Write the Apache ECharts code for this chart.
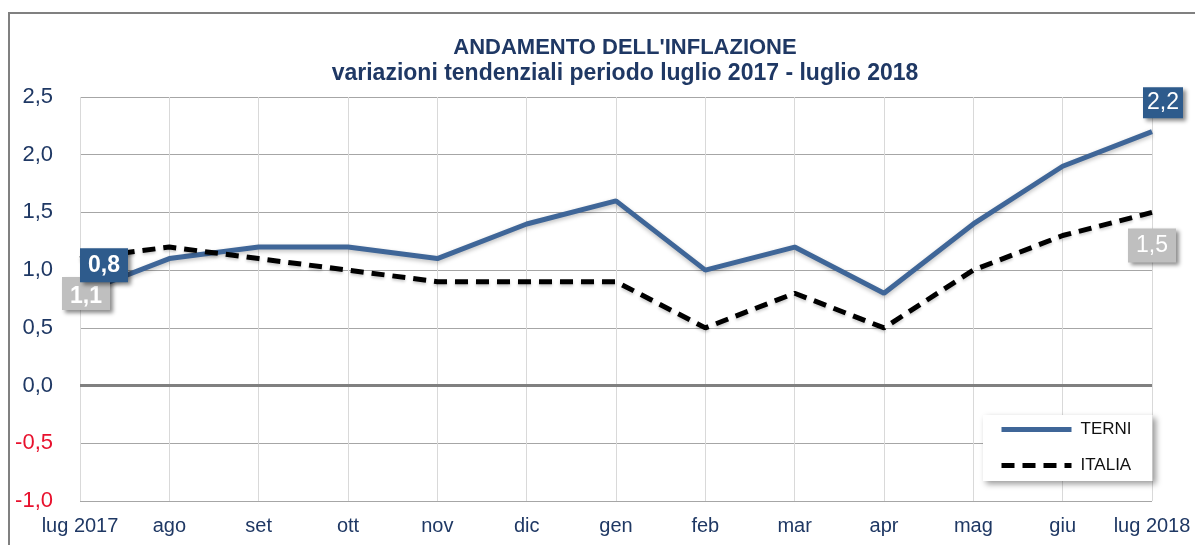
<!DOCTYPE html>
<html>
<head>
<meta charset="utf-8">
<script src="https://cdn.jsdelivr.net/npm/echarts@6/dist/echarts.min.js"></script>
<style>
  html, body { margin: 0; padding: 0; background: #fff; }
  #chart { width: 1195px; height: 545px; }
</style>
</head>
<body>
<div id="chart"></div>
<script>
// dati
const categories = ['lug 2017', 'ago', 'set', 'ott', 'nov', 'dic', 'gen', 'feb', 'mar', 'apr', 'mag', 'giu', 'lug 2018'];
const terni = [0.8, 1.1, 1.2, 1.2, 1.1, 1.4, 1.6, 1.0, 1.2, 0.8, 1.4, 1.9, 2.2];
const italia = [1.1, 1.2, 1.1, 1.0, 0.9, 0.9, 0.9, 0.5, 0.8, 0.5, 1.0, 1.3, 1.5];

const navy = '#1f3864';
const blu = '#3f6698';
const fmt = v => v.toFixed(1).replace('.', ',');

const chart = echarts.init(document.getElementById('chart'));
const last = categories.length - 1;

const option = {
    animation: false,
    textStyle: { fontFamily: 'Liberation Sans, Arial, sans-serif' },
    title: {
        text: "ANDAMENTO DELL'INFLAZIONE",
        subtext: 'variazioni tendenziali periodo luglio 2017 - luglio 2018',
        left: 620,
        textAlign: 'center',
        top: 32,
        itemGap: 3,
        textStyle: { color: navy, fontSize: 22, fontWeight: 'bold' },
        subtextStyle: { color: navy, fontSize: 23, fontWeight: 'bold' }
    },
    graphic: [{
        type: 'rect',
        shape: { x: 9, y: 13, width: 1300, height: 700 },
        style: { fill: 'none', stroke: '#808080', lineWidth: 2 },
        silent: true
    }],
    legend: {
        data: ['TERNI', 'ITALIA'],
        orient: 'vertical',
        left: 983,
        top: 415,
        padding: [6, 21, 7, 16],
        itemWidth: 70,
        itemHeight: 20,
        itemGap: 19,
        backgroundColor: '#fff',
        shadowBlur: 6,
        shadowColor: 'rgba(0,0,0,0.4)',
        shadowOffsetX: 3,
        shadowOffsetY: 3,
        itemStyle: { opacity: 0 },
        lineStyle: { width: 5 },
        textStyle: { color: '#111', fontSize: 17, padding: [0, 0, 0, 4] }
    },
    grid: { left: 80, right: 43, top: 97, bottom: 44 },
    xAxis: {
        type: 'category',
        boundaryGap: false,
        data: categories,
        axisLine: { show: false },
        axisTick: { show: false },
        axisLabel: { color: navy, fontSize: 20, margin: 15, interval: 0 },
        splitLine: { show: true, interval: 0, lineStyle: { color: '#d9d9d9', width: 1 } }
    },
    yAxis: {
        type: 'value',
        min: -1,
        max: 2.5,
        interval: 0.5,
        axisLine: { show: false },
        axisTick: { show: false },
        axisLabel: {
            fontSize: 22,
            margin: 27,
            formatter: v => fmt(v),
            color: v => (v < 0 ? '#e8112d' : navy)
        },
        splitLine: { lineStyle: { color: '#a6a6a6', width: 1 } }
    },
    series: [
        {
            name: 'TERNI',
            type: 'line',
            symbol: 'none',
            data: terni,
            z: 3,
            lineStyle: {
                color: blu, width: 5,
                shadowBlur: 4, shadowColor: 'rgba(0,0,0,0.25)', shadowOffsetY: 2
            },
            itemStyle: { color: blu },
            markPoint: {
                z: 6,
                symbol: 'rect',
                silent: true,
                itemStyle: {
                    color: '#2e5b8c',
                    shadowBlur: 4, shadowColor: 'rgba(0,0,0,0.45)',
                    shadowOffsetX: 3, shadowOffsetY: 3
                },
                label: { show: true, position: 'inside', color: '#fff', fontSize: 23, formatter: p => p.value },
                data: [
                    { coord: [categories[0], terni[0]], value: fmt(terni[0]), symbolSize: [48, 34], symbolOffset: [24, -28],
                      label: { fontWeight: 'bold' } },
                    { coord: [categories[last], terni[last]], value: fmt(terni[last]), symbolSize: [40, 31], symbolOffset: [11, -29] }
                ]
            }
        },
        {
            name: 'ITALIA',
            type: 'line',
            symbol: 'none',
            data: italia,
            z: 4,
            lineStyle: {
                color: '#000', width: 5, type: [13, 8],
                shadowBlur: 3, shadowColor: 'rgba(0,0,0,0.2)', shadowOffsetY: 2
            },
            itemStyle: { color: '#000' },
            markLine: {
                silent: true,
                symbol: 'none',
                z: 2,
                label: { show: false },
                lineStyle: { color: '#808080', width: 3, type: 'solid' },
                data: [{ yAxis: 0 }]
            },
            markPoint: {
                z: 5,
                symbol: 'rect',
                silent: true,
                itemStyle: {
                    color: '#bfbfbf',
                    shadowBlur: 4, shadowColor: 'rgba(0,0,0,0.45)',
                    shadowOffsetX: 3, shadowOffsetY: 3
                },
                label: { show: true, position: 'inside', color: '#fff', fontSize: 23, formatter: p => p.value },
                data: [
                    { coord: [categories[0], italia[0]], value: fmt(italia[0]), symbolSize: [48, 33], symbolOffset: [6, 35],
                      label: { fontWeight: 'bold', offset: [0, 3] } },
                    { coord: [categories[last], italia[last]], value: fmt(italia[last]), symbolSize: [48, 34], symbolOffset: [0, 33] }
                ]
            }
        }
    ]
};

chart.setOption(option);
window.addEventListener('resize', function () {
    chart.resize();
});
</script>
</body>
</html>
